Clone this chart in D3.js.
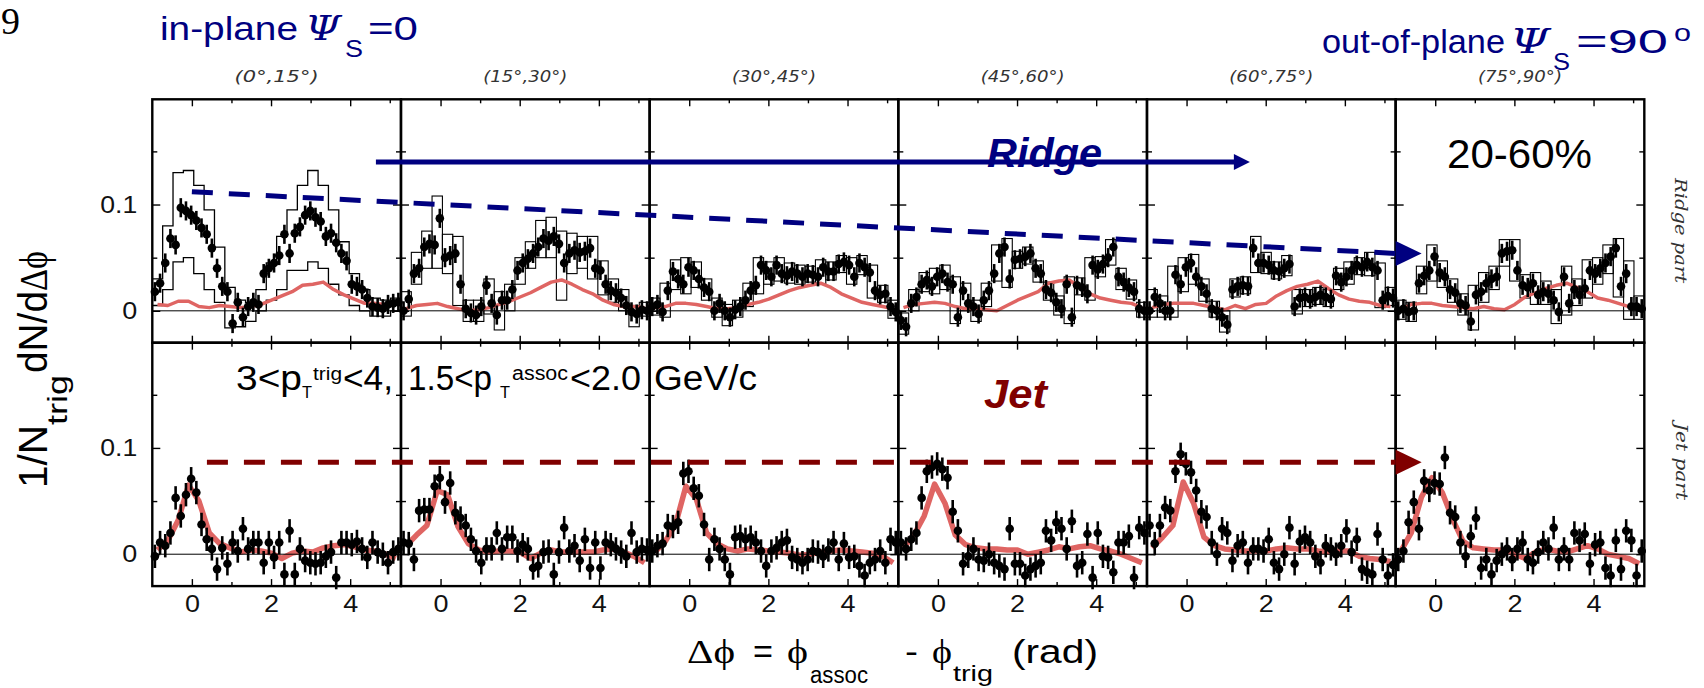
<!DOCTYPE html>
<html>
<head>
<meta charset="utf-8">
<script src="https://cdn.jsdelivr.net/npm/d3@7"></script>
<style>
  body { margin: 0; background: #fff; }
</style>
</head>
<body>
<div id="chart"></div>
<script>
// panel headers (reaction-plane angle bins)
const angleBins = ['(0°,15°)', '(15°,30°)', '(30°,45°)', '(45°,60°)', '(60°,75°)', '(75°,90°)']
const phiTicks = [0, 2, 4]
const phiMinor = [1, 3, 5]
const valueTicks = [0, 0.1]
const valueMinor = [0.05, 0.15]

// ridge part, 48 bins from -1 to 2pi-1, one list per panel
const ridgeData = [
  [0.018,0.026,0.045,0.068,0.062,0.097,0.094,0.09,0.085,0.078,0.072,0.059,0.04,0.023,0.018,-0.012,0.008,-0.006,0.004,0.008,0.006,0.035,0.04,0.045,0.052,0.072,0.054,0.073,0.079,0.09,0.094,0.088,0.084,0.07,0.073,0.064,0.054,0.047,0.025,0.023,0.02,0.012,0.004,0.003,0.002,0.006,0.007,0.008],
  [0.0,0.011,0.035,0.04,0.06,0.063,0.062,0.087,0.05,0.052,0.054,0.025,0.002,-0.002,-0.004,0.004,0.024,0.007,-0.004,0.01,0.01,0.02,0.038,0.045,0.049,0.054,0.06,0.068,0.066,0.07,0.063,0.045,0.054,0.057,0.055,0.056,0.059,0.04,0.038,0.025,0.019,0.017,0.012,0.005,-0.001,-0.003,0.001,0.0],
  [0.004,0.006,-0.001,0.019,0.037,0.03,0.025,0.041,0.038,0.03,0.022,0.018,0.0,0.007,0.0,-0.006,0.001,0.004,0.01,0.019,0.024,0.043,0.038,0.032,0.043,0.035,0.033,0.037,0.035,0.032,0.035,0.034,0.032,0.041,0.037,0.037,0.044,0.046,0.043,0.032,0.045,0.041,0.036,0.019,0.015,0.016,0.004,-0.001],
  [-0.009,-0.015,0.007,0.013,0.025,0.029,0.023,0.032,0.035,0.027,0.025,-0.006,0.019,0.007,0.004,-0.003,0.01,0.019,0.035,0.054,0.06,0.03,0.048,0.049,0.051,0.054,0.04,0.035,0.02,0.017,0.008,0.002,0.025,-0.006,0.024,0.022,0.016,0.043,0.039,0.044,0.05,0.06,0.032,0.027,0.022,0.018,0.002,0.0],
  [0.0,0.013,0.007,0.0,0.0,0.034,0.025,0.041,0.045,0.032,0.023,0.016,0.002,0.0,-0.006,-0.013,0.02,0.023,0.024,0.023,0.059,0.045,0.045,0.043,0.038,0.037,0.04,0.044,0.004,0.012,0.013,0.011,0.013,0.015,0.013,0.011,0.033,0.027,0.032,0.038,0.043,0.041,0.046,0.041,0.038,0.01,0.014,0.012],
  [0.0,0.002,-0.001,0.0,0.026,0.033,0.038,0.051,0.036,0.032,0.02,0.017,0.007,0.005,-0.01,0.015,0.018,0.026,0.03,0.032,0.054,0.056,0.057,0.038,0.024,0.022,0.026,0.015,0.018,0.016,0.01,-0.001,0.032,0.007,0.02,0.015,0.021,0.038,0.035,0.04,0.045,0.051,0.059,0.023,0.035,0.004,0.004,0.002]
]

// systematic envelope of the ridge part, 24 wide bins
const ridgeHi = [
  [0.03,0.08,0.13,0.132,0.118,0.095,0.06,0.022,0.01,0.008,0.02,0.045,0.07,0.095,0.118,0.132,0.118,0.095,0.065,0.035,0.02,0.012,0.01,0.012],
  [0.018,0.055,0.075,0.108,0.072,0.07,0.01,0.01,0.03,0.018,0.025,0.05,0.065,0.085,0.088,0.075,0.073,0.07,0.07,0.047,0.03,0.02,0.005,0.008],
  [0.012,0.026,0.048,0.05,0.046,0.03,0.012,0.006,0.01,0.026,0.05,0.046,0.05,0.045,0.043,0.042,0.048,0.046,0.052,0.05,0.052,0.043,0.024,0.01],
  [-0.002,0.02,0.036,0.04,0.043,0.032,0.026,0.01,0.026,0.062,0.068,0.056,0.06,0.047,0.027,0.014,0.032,0.031,0.05,0.051,0.067,0.04,0.029,0.008],
  [0.02,0.014,0.042,0.05,0.053,0.03,0.009,0.0,0.03,0.032,0.07,0.055,0.046,0.052,0.02,0.02,0.022,0.02,0.04,0.046,0.05,0.055,0.045,0.022],
  [0.01,0.008,0.042,0.062,0.047,0.03,0.016,0.024,0.036,0.042,0.067,0.067,0.034,0.036,0.028,0.02,0.042,0.03,0.048,0.05,0.062,0.068,0.047,0.014]
]
const ridgeLo = [
  [0.005,0.02,0.046,0.05,0.035,0.02,0.008,-0.016,-0.015,-0.01,0.0,0.01,0.02,0.038,0.038,0.046,0.04,0.025,0.015,0.005,0.0,-0.005,-0.005,0.0],
  [-0.005,0.025,0.04,0.04,0.035,0.005,-0.01,-0.01,-0.003,-0.018,0.0,0.025,0.04,0.05,0.05,0.01,0.035,0.04,0.03,0.015,0.008,0.0,-0.015,-0.005],
  [-0.004,-0.006,0.02,0.016,0.022,0.01,-0.006,-0.014,-0.006,0.004,0.016,0.025,0.028,0.026,0.025,0.027,0.025,0.029,0.036,0.025,0.034,0.012,0.008,-0.007],
  [-0.022,0.0,0.018,0.016,0.02,-0.012,0.0,-0.01,0.004,0.028,0.022,0.04,0.044,0.027,0.01,-0.004,-0.012,0.015,0.01,0.032,0.043,0.02,0.011,-0.006],
  [-0.006,-0.006,-0.006,0.018,0.025,0.009,-0.006,-0.02,0.013,0.016,0.036,0.035,0.03,0.033,-0.003,0.004,0.006,0.004,0.02,0.025,0.034,0.033,0.003,0.005],
  [-0.008,-0.01,0.016,0.028,0.022,0.008,-0.004,-0.018,0.008,0.02,0.042,0.028,0.012,0.006,0.006,-0.012,-0.004,0.005,0.012,0.025,0.035,0.013,-0.008,-0.008]
]
// red reference curve, 24 wide bins
const ridgeRef = [
  [0.006,0.005,0.009,0.009,0.004,0.003,0.005,0.004,0.003,0.004,0.006,0.01,0.014,0.018,0.024,0.025,0.027,0.02,0.015,0.011,0.007,0.007,0.006,0.006],
  [0.002,0.005,0.006,0.007,0.004,0.002,0.0,0.001,0.003,0.006,0.009,0.013,0.017,0.022,0.027,0.029,0.025,0.02,0.016,0.01,0.006,0.004,0.004,0.003],
  [0.003,0.004,0.007,0.007,0.006,0.004,0.002,0.002,0.003,0.006,0.008,0.011,0.015,0.019,0.022,0.024,0.026,0.022,0.016,0.012,0.008,0.006,0.004,0.002],
  [0.003,0.006,0.007,0.008,0.007,0.004,0.002,0.002,0.001,0.0,0.005,0.01,0.014,0.018,0.026,0.028,0.029,0.022,0.016,0.012,0.01,0.008,0.007,0.003],
  [0.003,0.006,0.007,0.007,0.007,0.005,0.003,0.001,0.005,0.002,0.006,0.007,0.014,0.019,0.023,0.025,0.028,0.021,0.015,0.011,0.009,0.008,0.005,0.004],
  [0.001,0.006,0.007,0.007,0.005,0.004,0.003,0.002,0.004,0.002,0.001,0.006,0.013,0.017,0.021,0.024,0.026,0.022,0.018,0.012,0.01,0.007,0.004,0.003]
]

// jet part, 48 bins
const jetData = [
  [-0.002,0.011,0.008,0.02,0.053,0.036,0.056,0.071,0.058,0.028,0.014,0.005,-0.014,0.006,-0.009,0.011,0.003,0.024,0.005,0.011,0.011,-0.008,0.011,-0.003,0.011,-0.019,0.022,-0.019,0.005,-0.006,-0.008,-0.009,-0.008,-0.002,0.002,-0.022,0.011,0.011,0.009,0.012,0.005,-0.003,0.011,0.002,0.0,-0.008,0.002,0.005],
  [0.011,0.01,-0.005,0.041,0.042,0.042,0.064,0.072,0.049,0.067,0.039,0.034,0.027,0.014,0.003,-0.008,0.005,0.005,0.02,0.005,0.016,0.016,0.003,0.009,0.005,-0.013,-0.011,0.002,0.003,-0.019,0.002,0.025,0.003,0.008,-0.006,0.014,-0.013,0.011,-0.013,0.011,0.009,0.005,0.002,-0.002,0.02,0.002,0.005,0.004],
  [0.003,0.008,0.01,0.027,0.026,0.03,0.076,0.078,0.062,0.055,0.028,-0.005,0.014,0.005,-0.005,-0.019,0.016,0.017,0.014,0.016,0.011,0.003,-0.011,0.003,0.006,0.011,0.013,-0.003,-0.005,-0.008,-0.005,0.003,0.002,-0.002,0.004,0.011,-0.005,0.01,-0.003,-0.002,-0.011,-0.02,-0.008,-0.005,0.003,-0.008,0.014,0.011],
  [0.011,0.005,0.014,0.02,0.053,0.078,0.082,0.085,0.08,0.072,0.04,0.022,-0.009,-0.002,0.005,-0.005,-0.006,0.0,-0.008,-0.011,-0.014,0.024,-0.009,-0.009,-0.02,-0.014,-0.011,-0.008,0.022,0.013,0.03,0.024,0.005,0.031,-0.011,-0.008,0.019,-0.022,0.02,-0.002,-0.003,-0.017,0.011,0.011,0.017,-0.022,0.025,0.02],
  [0.027,0.01,0.027,0.044,0.041,0.078,0.094,0.085,0.077,0.06,0.04,0.035,0.011,0.0,0.024,0.02,-0.006,0.008,0.011,-0.008,0.005,0.005,0.003,0.014,-0.008,-0.014,0.0,0.025,-0.009,0.012,0.016,0.011,-0.002,-0.008,0.008,0.005,0.0,0.008,0.022,0.002,0.014,-0.014,-0.017,-0.019,0.019,-0.005,-0.02,-0.01],
  [-0.005,0.003,0.03,0.049,0.024,0.069,0.06,0.067,0.066,0.091,0.039,0.035,0.011,-0.002,0.017,0.034,-0.013,-0.005,-0.019,-0.006,0.0,0.005,-0.005,0.005,0.011,-0.005,-0.008,0.002,0.011,0.005,0.025,-0.005,0.005,-0.005,0.02,0.013,0.019,-0.009,0.009,0.011,-0.013,-0.02,0.013,-0.014,0.022,0.013,-0.02,0.003]
]
const jetRef = [
  [0.004,0.013,0.032,0.065,0.05,0.02,0.01,0.006,0.002,0.004,0.003,0.001,-0.004,0.001,0.003,0.002,0.006,0.008,0.009,0.007,0.004,0.003,0.0,-0.004],
  [0.008,0.018,0.027,0.06,0.056,0.026,0.01,0.004,0.002,0.003,0.003,0.002,-0.004,0.001,0.004,0.002,0.002,0.002,0.002,0.004,0.005,0.002,-0.002,-0.008],
  [0.002,0.012,0.028,0.064,0.052,0.02,0.01,0.005,0.003,0.005,0.004,0.003,0.002,0.001,-0.001,0.0,0.002,0.003,0.004,0.003,0.002,0.001,-0.002,-0.008],
  [0.006,0.018,0.036,0.066,0.048,0.018,0.009,0.006,0.005,0.005,0.004,0.004,0.0,0.002,0.004,0.007,0.005,0.007,0.008,0.005,0.003,0.0,-0.004,-0.008],
  [0.006,0.016,0.027,0.068,0.048,0.016,0.008,0.005,0.004,0.003,0.003,0.003,0.005,0.006,0.005,0.005,0.003,0.002,0.003,0.003,-0.002,-0.004,-0.005,-0.007],
  [0.003,0.02,0.054,0.072,0.058,0.033,0.012,0.006,0.005,0.004,0.004,0.0,-0.004,0.002,0.005,0.003,0.002,0.005,0.008,0.005,0.0,-0.002,-0.004,-0.009]
]
const ridgeErr = 0.009
const jetErr = 0.011

// annotation anchors: [panel, dphi, value]
const ridgeArrow = [[0, 4.65, 0.14], [4, 1.6, 0.14]]
const ridgeTrend = [[0, 0.0, 0.112], [5, -1, 0.054]]
const jetTrend = [[0, 0.38, 0.0865], [5, -1, 0.0865]]

const NAVY = '#000080', DARKRED = '#800000', PINK = '#df6563'
const SANS = 'Liberation Sans, Arial, sans-serif'
const SERIF = 'DejaVu Serif, Liberation Serif, serif'

const PANEL = { LEFT: 152.3, TOP: 99.3, W: 248.67, H: 243.4 }
const NBIN = 48, NSYS = 24

const svg = d3.select('#chart').append('svg')
    .attr('width', 1704)
    .attr('height', 688)
    .style('background', '#fff')

const x = d3.scaleLinear().domain([-1, 2 * Math.PI - 1]).range([0, PANEL.W])
const y = d3.scaleLinear().domain([-0.03, 0.199]).range([PANEL.H, 0])

const phiBins = d3.range(NBIN).map(i => -1 + (i + 0.5) * 2 * Math.PI / NBIN)
const refPhi = d3.range(NSYS).map(i => -1 + (i + 0.5) * 2 * Math.PI / NSYS)
const sysEdges = d3.range(NSYS + 1).map(i => -1 + i * 2 * Math.PI / NSYS)

const px = (p, phi) => PANEL.LEFT + p * PANEL.W + x(phi)
const py = (r, v) => PANEL.TOP + r * PANEL.H + y(v)

function label(parent, str, lx, ly, o = {}) {
    const t = parent.append('text')
        .attr('x', lx).attr('y', ly)
        .attr('font-family', o.family || SANS)
        .attr('font-size', o.size || 20)
        .attr('fill', o.fill || '#000')
        .text(str)
    if (o.len) t.attr('textLength', o.len).attr('lengthAdjust', o.adjust || 'spacingAndGlyphs')
    if (o.style) t.attr('font-style', o.style)
    if (o.weight) t.attr('font-weight', o.weight)
    if (o.anchor) t.attr('text-anchor', o.anchor)
    return t
}

const rows = [
    { data: ridgeData, ref: ridgeRef, hi: ridgeHi, lo: ridgeLo, err: ridgeErr, refWidth: 3.5 },
    { data: jetData, ref: jetRef, err: jetErr, refWidth: 5.5 }
]

const refLine = d3.line().x((d, i) => x(refPhi[i])).y(d => y(d))

rows.forEach((row, r) => {
    row.data.forEach((vals, p) => {
        const g = svg.append('g')
            .attr('transform', `translate(${PANEL.LEFT + p * PANEL.W},${PANEL.TOP + r * PANEL.H})`)

        // systematic envelope (ridge only)
        if (row.hi) {
            if (p === 0) {
                const step = d3.line().curve(d3.curveStepAfter).x(d => x(d[0])).y(d => y(d[1]))
                ;[row.hi[p], row.lo[p]].forEach(arr => {
                    const pts = arr.map((v, i) => [sysEdges[i], v])
                    pts.push([sysEdges[NSYS], arr[NSYS - 1]])
                    g.append('path').attr('d', step(pts))
                        .attr('fill', 'none').attr('stroke', '#000').attr('stroke-width', 1.3)
                })
            } else {
                g.selectAll('rect.sys').data(row.hi[p]).enter().append('rect')
                    .attr('class', 'sys')
                    .attr('x', (d, i) => x(sysEdges[i]))
                    .attr('width', (d, i) => x(sysEdges[i + 1]) - x(sysEdges[i]))
                    .attr('y', d => y(d))
                    .attr('height', (d, i) => y(row.lo[p][i]) - y(d))
                    .attr('fill', 'none').attr('stroke', '#000').attr('stroke-width', 1.1)
            }
        }

        // red reference curve
        g.append('path').attr('d', refLine(row.ref[p]))
            .attr('fill', 'none').attr('stroke', PINK)
            .attr('stroke-width', row.refWidth).attr('stroke-linejoin', 'round')

        // zero line
        g.append('line').attr('x1', 0).attr('x2', PANEL.W)
            .attr('y1', y(0)).attr('y2', y(0))
            .attr('stroke', '#000').attr('stroke-width', 1)

        // error bars + points
        g.selectAll('line.err').data(vals).enter().append('line')
            .attr('class', 'err')
            .attr('x1', (d, i) => x(phiBins[i])).attr('x2', (d, i) => x(phiBins[i]))
            .attr('y1', d => y(d - row.err)).attr('y2', d => y(d + row.err))
            .attr('stroke', '#000').attr('stroke-width', 2.6)
        g.selectAll('circle').data(vals).enter().append('circle')
            .attr('cx', (d, i) => x(phiBins[i]))
            .attr('cy', d => y(d))
            .attr('r', 4.3)
            .attr('fill', '#000')

        // ticks, inward on all four sides
        const tickStyle = sel => {
            sel.select('.domain').remove()
            sel.selectAll('line').attr('stroke', '#000').attr('stroke-width', 1.4)
        }
        g.append('g').attr('transform', `translate(0,${PANEL.H})`)
            .call(d3.axisBottom(x).tickValues(phiTicks).tickSize(-7).tickPadding(10)
                .tickFormat(r === 1 ? d3.format('d') : ''))
            .call(tickStyle)
            .call(s => s.selectAll('text').attr('font-family', SANS).attr('font-size', 23).attr('fill', '#111')
                .attr('textLength', 15).attr('lengthAdjust', 'spacingAndGlyphs'))
        g.append('g').attr('transform', `translate(0,${PANEL.H})`)
            .call(d3.axisBottom(x).tickValues(phiMinor).tickSize(-4).tickFormat('')).call(tickStyle)
        g.append('g')
            .call(d3.axisTop(x).tickValues(phiTicks).tickSize(-7).tickFormat('')).call(tickStyle)
        g.append('g')
            .call(d3.axisTop(x).tickValues(phiMinor).tickSize(-4).tickFormat('')).call(tickStyle)
        g.append('g')
            .call(d3.axisLeft(y).tickValues(valueTicks).tickSize(-8).tickPadding(15)
                .tickFormat(p === 0 ? d => (d === 0 ? '0' : d3.format('.1f')(d)) : ''))
            .call(tickStyle)
            .call(s => s.selectAll('text').attr('font-family', SANS).attr('font-size', 24).attr('fill', '#111')
                .attr('textLength', d => (d === 0 ? 15 : 37)).attr('lengthAdjust', 'spacingAndGlyphs'))
        g.append('g')
            .call(d3.axisLeft(y).tickValues(valueMinor).tickSize(-5).tickFormat('')).call(tickStyle)
        g.append('g').attr('transform', `translate(${PANEL.W},0)`)
            .call(d3.axisRight(y).tickValues(valueTicks).tickSize(-8).tickFormat('')).call(tickStyle)
        g.append('g').attr('transform', `translate(${PANEL.W},0)`)
            .call(d3.axisRight(y).tickValues(valueMinor).tickSize(-5).tickFormat('')).call(tickStyle)

        // frame
        g.append('rect').attr('width', PANEL.W).attr('height', PANEL.H)
            .attr('fill', 'none').attr('stroke', '#000').attr('stroke-width', 2.4)
    })
})

// panel headers
angleBins.forEach((a, p) => {
    label(svg, a, PANEL.LEFT + (p + 0.5) * PANEL.W, 82,
        { size: 16, style: 'italic', fill: '#333', anchor: 'middle', len: 84, family: 'DejaVu Sans, sans-serif' })
})

// ridge arrow
{
    const [a, b] = ridgeArrow.map(d => [px(d[0], d[1]), py(0, d[2])])
    svg.append('line').attr('x1', a[0]).attr('y1', a[1]).attr('x2', b[0] - 12).attr('y2', b[1])
        .attr('stroke', NAVY).attr('stroke-width', 4.8)
    svg.append('path').attr('d', `M${b[0] - 16},${b[1] - 8}L${b[0]},${b[1]}L${b[0] - 16},${b[1] + 8}Z`)
        .attr('fill', NAVY)
}

// dashed trend arrows
function trend(pts, r, color) {
    const [a, b] = pts.map(d => [px(d[0], d[1]), py(r, d[2])])
    svg.append('line').attr('x1', a[0]).attr('y1', a[1]).attr('x2', b[0]).attr('y2', b[1])
        .attr('stroke', color).attr('stroke-width', 5).attr('stroke-dasharray', '21,16')
    svg.append('path').attr('d', `M${b[0]},${b[1] - 12.5}L${b[0] + 26},${b[1]}L${b[0]},${b[1] + 12.5}Z`)
        .attr('fill', color)
}
trend(ridgeTrend, 0, NAVY)
trend(jetTrend, 1, DARKRED)

// in-panel labels
label(svg, 'Ridge', 987, 167, { size: 40, weight: 'bold', style: 'italic', fill: NAVY, len: 115 })
label(svg, 'Jet', 984, 408, { size: 40, weight: 'bold', style: 'italic', fill: DARKRED, len: 63 })
label(svg, '20-60%', 1447, 168, { size: 40, len: 145 })

label(svg, '3<p', 236, 390, { size: 35, len: 66 })
label(svg, 'T', 302, 398, { size: 17, len: 10 })
label(svg, 'trig', 313, 380, { size: 19, len: 29 })
label(svg, '<4,', 343, 390, { size: 35, len: 50 })
label(svg, '1.5<p', 408, 390, { size: 35, len: 84 })
label(svg, 'T', 500, 398, { size: 17, len: 10 })
label(svg, 'assoc', 512, 380, { size: 20, len: 56 })
label(svg, '<2.0', 570, 390, { size: 35, len: 71 })
label(svg, 'GeV/c', 654, 390, { size: 35, len: 103 })

// top titles
label(svg, '9', 1, 34, { size: 38, family: 'Liberation Serif, serif' })
label(svg, 'in-plane', 160, 40, { size: 34, fill: NAVY, len: 138 })
label(svg, 'Ψ', 305, 40, { size: 34, fill: NAVY, family: SERIF, style: 'italic', len: 36 })
label(svg, 'S', 345, 57, { size: 24, fill: NAVY, len: 18 })
label(svg, '=0', 368, 40, { size: 34, fill: NAVY, len: 50 })

label(svg, 'out-of-plane', 1322, 53, { size: 34, fill: NAVY, len: 183 })
label(svg, 'Ψ', 1510, 53, { size: 34, fill: NAVY, family: SERIF, style: 'italic', len: 40 })
label(svg, 'S', 1553, 70, { size: 24, fill: NAVY, len: 17 })
label(svg, '=90', 1576, 53, { size: 34, fill: NAVY, len: 92 })
label(svg, 'o', 1674, 41, { size: 24, fill: NAVY, len: 17 })

// right-side row names
label(svg.append('g').attr('transform', 'translate(1675,178) rotate(90)'),
    'Ridge part', 0, 0, { size: 17, family: SERIF, style: 'italic', fill: '#333', len: 105 })
label(svg.append('g').attr('transform', 'translate(1676,423) rotate(90)'),
    'Jet part', 0, 0, { size: 17, family: SERIF, style: 'italic', fill: '#333', len: 77 })

// x axis title
label(svg, 'Δϕ', 687, 663, { size: 33, family: 'Liberation Serif, serif', len: 48 })
label(svg, '=', 753, 663, { size: 33, len: 20 })
label(svg, 'ϕ', 787, 663, { size: 33, family: 'Liberation Serif, serif', len: 21 })
label(svg, 'assoc', 810, 683, { size: 23, len: 58 })
label(svg, '-', 905, 663, { size: 33, len: 13 })
label(svg, 'ϕ', 932, 663, { size: 33, family: 'Liberation Serif, serif', len: 20 })
label(svg, 'trig', 953, 681, { size: 22, len: 40 })
label(svg, '(rad)', 1012, 663, { size: 33, len: 86 })

// y axis title
{
    const gy = svg.append('g').attr('transform', 'translate(47,488) rotate(-90)')
    label(gy, '1/N', 0, 0, { size: 40, len: 63 })
    label(gy, 'trig', 63, 20, { size: 28, len: 50 })
    label(gy, 'dN/d', 115, 0, { size: 40, len: 82 })
    label(gy, 'Δϕ', 197, 0, { size: 40, family: 'Liberation Serif, serif', len: 40 })
}
</script>
</body>
</html>
